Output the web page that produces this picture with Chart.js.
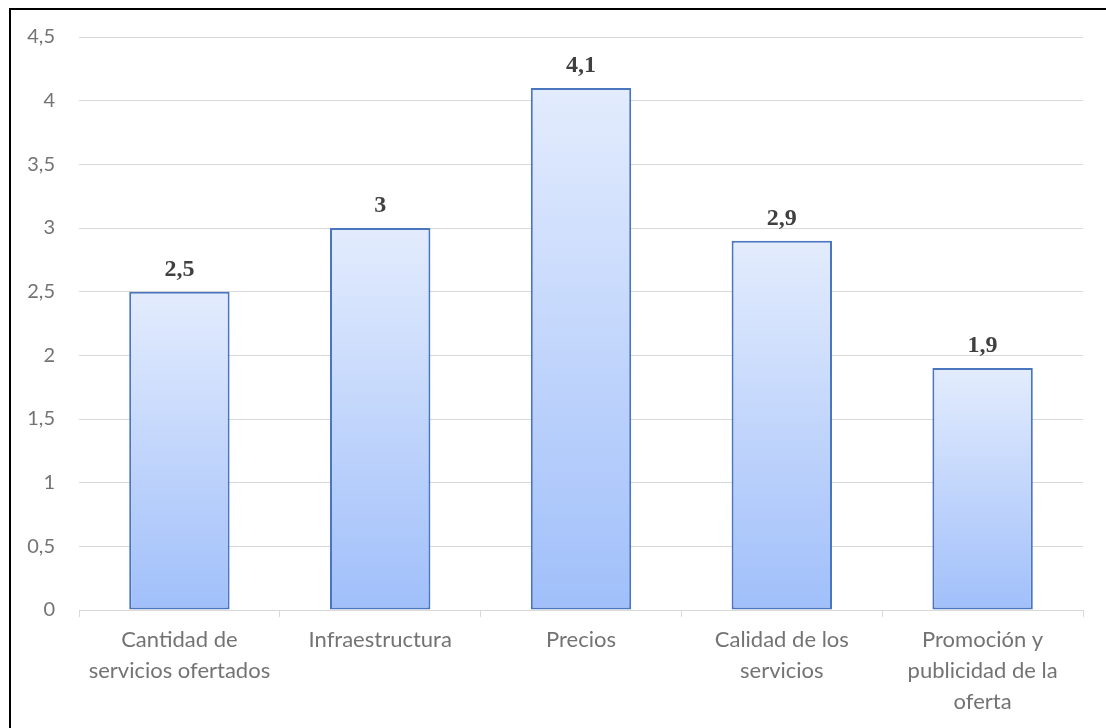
<!DOCTYPE html>
<html>
<head>
<meta charset="utf-8">
<script src="https://cdn.jsdelivr.net/npm/chart.js@4/dist/chart.umd.min.js"></script>
<style>
  html, body { margin: 0; padding: 0; background: #fff; overflow: hidden; }
  #wrap { position: relative; width: 1106px; height: 728px; }
  #frame {
    position: absolute; left: 9px; top: 8px; width: 1200px; height: 800px;
    border-left: 2px solid #000; border-top: 2px solid #000; box-sizing: border-box;
    pointer-events: none;
  }
  canvas { position: absolute; left: 0; top: 0; }
</style>
</head>
<body>
<div id="wrap">
  <canvas id="chart" width="1106" height="728"></canvas>
  <div id="frame"></div>
</div>
<script>
// Categories (multi-line labels) and average scores
const categories = [
  ["Cantidad de", "servicios ofertados"],
  ["Infraestructura"],
  ["Precios"],
  ["Calidad de los", "servicios"],
  ["Promoción y", "publicidad de la", "oferta"]
];
const scores = [2.5, 3, 4.1, 2.9, 1.9];
const yTicks = [0, 0.5, 1, 1.5, 2, 2.5, 3, 3.5, 4, 4.5];

const fmt = v => String(v).replace('.', ',');

// Vertical gradient fill per bar, light at the top, deeper blue at the base
function barFill(ctx) {
  const chart = ctx.chart;
  const ys = chart.scales && chart.scales.y;
  if (!chart.chartArea || !ys || ctx.dataIndex === undefined) return '#C0D4FB';
  const top = ys.getPixelForValue(scores[ctx.dataIndex]);
  const bottom = ys.getPixelForValue(0);
  if (!isFinite(top) || !isFinite(bottom) || top === bottom) return '#C0D4FB';
  const g = chart.ctx.createLinearGradient(0, top, 0, bottom);
  g.addColorStop(0, '#E3ECFD');
  g.addColorStop(1, '#A0BFFA');
  return g;
}

// Value labels above each bar
const valueLabels = {
  id: 'valueLabels',
  afterDatasetsDraw(chart) {
    const c = chart.ctx;
    const meta = chart.getDatasetMeta(0);
    c.save();
    c.font = 'bold 24px "Liberation Serif", "Times New Roman", serif';
    c.fillStyle = '#404040';
    c.textAlign = 'center';
    c.textBaseline = 'alphabetic';
    meta.data.forEach((bar, i) => {
      c.fillText(fmt(scores[i]), bar.x, bar.y - 16);
    });
    c.restore();
  }
};

new Chart(document.getElementById('chart'), {
  type: 'bar',
  data: {
    labels: categories,
    datasets: [{
      data: scores,
      backgroundColor: barFill,
      borderColor: '#4A76C0',
      borderWidth: 2,
      borderSkipped: false,
      categoryPercentage: 1,
      barPercentage: 0.5
    }]
  },
  options: {
    responsive: false,
    animation: false,
    devicePixelRatio: 1,
    layout: { padding: { left: 0, right: 23, top: 37, bottom: 0 } },
    plugins: {
      legend: { display: false },
      tooltip: { enabled: false }
    },
    scales: {
      x: {
        grid: {
          offset: true,
          drawOnChartArea: false,
          drawTicks: true,
          tickLength: 7,
          color: '#D9D9D9',
          lineWidth: 1
        },
        border: { display: true, color: '#D9D9D9', width: 1 },
        ticks: {
          color: '#737373',
          font: { family: 'Lato, "Open Sans", sans-serif', size: 22, lineHeight: 1.4 },
          padding: 8,
          maxRotation: 0,
          autoSkip: false
        },
        afterFit(scale) { scale.height = 118; }
      },
      y: {
        min: 0,
        max: 4.5,
        afterBuildTicks(scale) { scale.ticks = yTicks.map(v => ({ value: v })); },
        grid: { color: '#D9D9D9', lineWidth: 1, drawTicks: false },
        border: { display: false },
        ticks: {
          color: '#737373',
          font: { family: 'Lato, "Open Sans", sans-serif', size: 20 },
          padding: 24,
          callback: v => fmt(v)
        },
        afterFit(scale) { scale.width = 79; }
      }
    }
  },
  plugins: [valueLabels]
});
</script>
</body>
</html>
